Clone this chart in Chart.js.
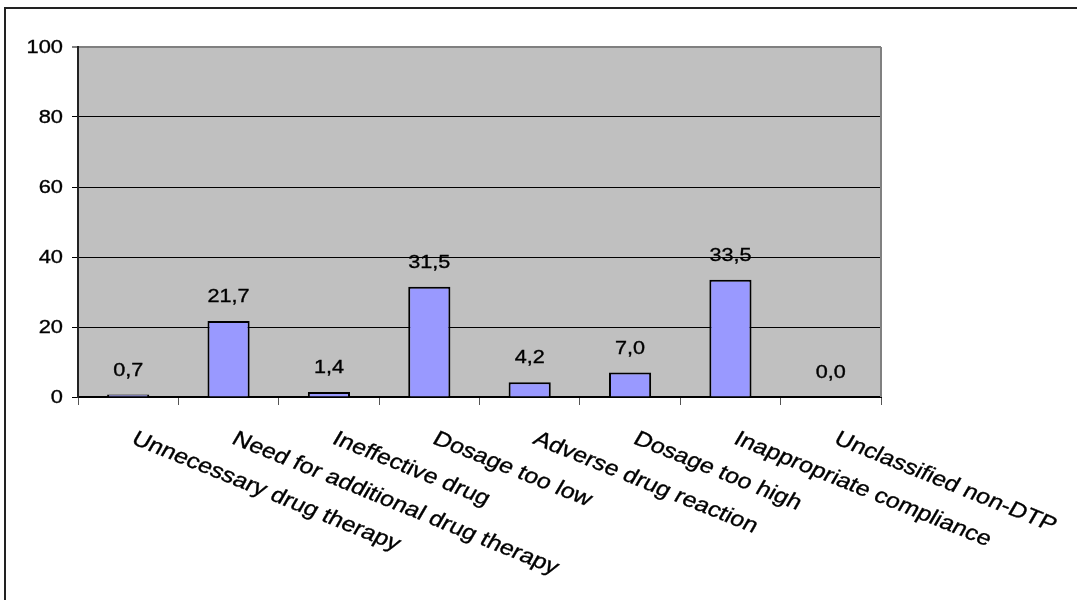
<!DOCTYPE html>
<html>
<head>
<meta charset="utf-8">
<script src="https://cdn.jsdelivr.net/npm/chart.js@4.4.1/dist/chart.umd.min.js"></script>
<style>
  html, body { margin: 0; padding: 0; background: #fff; }
  #wrap { position: relative; width: 1077px; height: 600px; }
</style>
</head>
<body>
<div id="wrap"><canvas id="chart" width="1077" height="600"></canvas></div>
<script>
// Drug therapy problem categories and their share (%)
const categories = [
  'Unnecessary drug therapy',
  'Need for additional drug therapy',
  'Ineffective drug',
  'Dosage too low',
  'Adverse drug reaction',
  'Dosage too high',
  'Inappropriate compliance',
  'Unclassified non-DTP'
];
const shares = [0.7, 21.7, 1.4, 31.5, 4.2, 7.0, 33.5, 0.0];
const yTicks = [0, 20, 40, 60, 80, 100];

const FONT = "'Liberation Sans', Arial, sans-serif";
const LABEL_ANGLE = 26;     // category label rotation (degrees, clockwise)

function fmt(v) { return v.toFixed(1).replace('.', ','); }

// text drawn slightly widened, with a hairline stroke for a fuller weight
function drawText(ctx, text, x, y, size, sx, align, baseline, angle) {
  ctx.save();
  ctx.font = size + 'px ' + FONT;
  ctx.fillStyle = '#000';
  ctx.strokeStyle = '#000';
  ctx.lineWidth = 0.35;
  ctx.textAlign = align;
  ctx.textBaseline = baseline;
  ctx.translate(x, y);
  ctx.scale(sx, 1);
  if (angle) ctx.rotate(angle * Math.PI / 180);
  ctx.fillText(text, 0, 0);
  ctx.strokeText(text, 0, 0);
  ctx.restore();
}

const frameAndPanel = {
  id: 'frameAndPanel',
  beforeDraw(chart) {
    const { ctx, chartArea: a } = chart;
    ctx.save();
    // outer frame (top and left edges)
    ctx.strokeStyle = '#222';
    ctx.lineWidth = 2;
    ctx.beginPath();
    ctx.moveTo(5, 600);
    ctx.lineTo(5, 8);
    ctx.lineTo(1077, 8);
    ctx.stroke();
    // plot panel fill
    ctx.fillStyle = '#C0C0C0';
    ctx.fillRect(a.left, a.top, a.right - a.left, a.bottom - a.top);
    ctx.restore();
  },
  afterDraw(chart) {
    const { ctx, chartArea: a, scales } = chart;
    ctx.save();
    // right edge of the panel
    ctx.strokeStyle = '#808080';
    ctx.lineWidth = 2;
    ctx.beginPath();
    ctx.moveTo(a.right, a.top);
    ctx.lineTo(a.right, a.bottom);
    ctx.stroke();
    ctx.restore();

    // value axis labels
    yTicks.forEach(v => {
      const y = scales.y.getPixelForValue(v);
      drawText(ctx, String(v), a.left - 15, y + 1, 19, 1.15, 'right', 'middle', 0);
    });

    // category labels, rotated clockwise, starting at each category centre
    categories.forEach((c, i) => {
      const x = scales.x.getPixelForValue(i);
      drawText(ctx, c, x + 2, a.bottom + 46, 21, 1.2, 'left', 'alphabetic', LABEL_ANGLE);
    });
  },
  afterDatasetsDraw(chart) {
    const { ctx } = chart;
    const meta = chart.getDatasetMeta(0);
    meta.data.forEach((bar, i) => {
      drawText(ctx, fmt(shares[i]), bar.x, bar.y - 19, 18, 1.2, 'center', 'alphabetic', 0);
    });
  }
};

new Chart(document.getElementById('chart'), {
  type: 'bar',
  data: {
    labels: categories,
    datasets: [{
      data: shares,
      backgroundColor: '#9999FF',
      borderColor: '#000',
      borderWidth: 2,
      borderSkipped: 'bottom',
      barPercentage: 0.42,
      categoryPercentage: 1.0
    }]
  },
  options: {
    responsive: false,
    animation: false,
    layout: { padding: { left: 0, top: 47, right: 196, bottom: 0 } },
    plugins: { legend: { display: false }, tooltip: { enabled: false } },
    scales: {
      x: {
        offset: true,
        afterFit(scale) { scale.height = 203; },
        ticks: { display: false },
        grid: {
          offset: true,
          drawOnChartArea: false,
          drawTicks: true,
          tickLength: 8,
          color: '#555',
          lineWidth: 1
        },
        border: { color: '#000', width: 2 }
      },
      y: {
        min: 0,
        max: 100,
        afterFit(scale) { scale.width = 78; },
        afterBuildTicks(scale) { scale.ticks = yTicks.map(v => ({ value: v })); },
        ticks: { display: false },
        grid: {
          drawTicks: true,
          tickLength: 6,
          color: ctx => (ctx.tick && ctx.tick.value === 100) ? '#808080' : '#000',
          lineWidth: ctx => (ctx.tick && ctx.tick.value === 100) ? 2 : 1
        },
        border: { color: '#222', width: 2 }
      }
    }
  },
  plugins: [frameAndPanel]
});
</script>
</body>
</html>
